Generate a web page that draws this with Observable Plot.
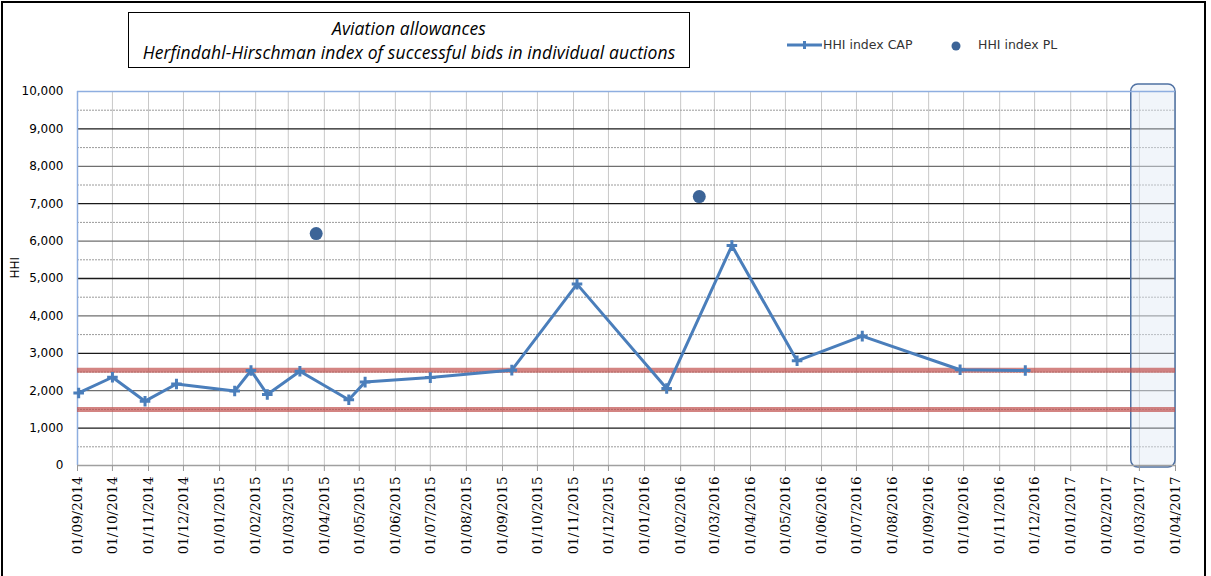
<!DOCTYPE html>
<html>
<head>
<meta charset="utf-8">
<script src="https://cdn.jsdelivr.net/npm/d3@7"></script>
<script src="https://cdn.jsdelivr.net/npm/@observablehq/plot@0.6"></script>
<style>
  html, body { margin: 0; padding: 0; background: #fff; }
  #wrap { position: relative; width: 1211px; height: 576px; overflow: hidden; }
  #frame { position: absolute; left: 1px; top: 1px; width: 1205px; height: 590px; border: 2px solid #000; box-sizing: border-box; pointer-events: none; }
  #title { position: absolute; left: 128px; top: 12px; width: 562px; height: 56px; border: 1.5px solid #000; box-sizing: border-box;
           font-family: "Open Sans", sans-serif; font-style: italic; font-size: 17.5px; line-height: 24px; text-align: center; padding-top: 3px; color: #000; background: #fff; letter-spacing: 0.1px; }
  #legend { position: absolute; left: 780px; top: 35px; width: 320px; height: 20px; }
  #chart { position: absolute; left: 0; top: 0; }
</style>
</head>
<body>
<div id="wrap">
  <div id="chart"></div>
  <div id="title">Aviation allowances<br>Herfindahl-Hirschman index of successful bids in individual auctions</div>
  <div id="legend"></div>
  <div id="frame"></div>
</div>
<script>
// ---- data ----
const capDates = ["2014-09-02","2014-10-01","2014-10-29","2014-11-25","2015-01-14","2015-01-28","2015-02-11","2015-03-11","2015-04-22","2015-05-06","2015-07-01","2015-09-09","2015-11-04","2016-01-20","2016-03-16","2016-05-11","2016-07-06","2016-09-28","2016-11-23"];
const capValues = [1940, 2360, 1720, 2180, 1990, 2540, 1900, 2520, 1760, 2230, 2350, 2550, 4850, 2060, 5880, 2800, 3460, 2560, 2540];
const plDates = ["2015-03-25", "2016-02-17"];
const plValues = [6200, 7190];
const thresholds = [1500, 2550];
const highlightStart = ["2017-02-22"];
const highlightEnd = ["2017-04-01"];
const xStart = "2014-09-01";
const xEnd = "2017-04-01";
const yTicks = [0, 1000, 2000, 3000, 4000, 5000, 6000, 7000, 8000, 9000, 10000];
const yMinor = [500, 1500, 2500, 3500, 4500, 5500, 6500, 7500, 8500, 9500];
const seriesNames = ["HHI index CAP", "HHI index PL"];
const yLabel = "HHI";

// ---- build ----
const parse = d3.utcParse("%Y-%m-%d");
const cap = capDates.map((d, i) => ({date: parse(d), value: capValues[i]}));
const pl = plDates.map((d, i) => ({date: parse(d), value: plValues[i]}));
const hl = highlightStart.map((d, i) => ({x1: parse(d), x2: parse(highlightEnd[i])}));
const x0 = parse(xStart), x1 = parse(xEnd);
const months = d3.utcMonth.range(x0, d3.utcDay.offset(x1, 1));

const blue = "#4a7ebb";
const dark = "#3c6497";

const chart = Plot.plot({
  width: 1211,
  height: 576,
  marginLeft: 77,
  marginRight: 36,
  marginTop: 91,
  marginBottom: 111,
  style: {fontFamily: "DejaVu Sans, sans-serif", fontSize: "12px", color: "#000", background: "transparent", overflow: "visible"},
  x: {type: "utc", domain: [x0, x1]},
  y: {domain: [0, 10000]},
  marks: [
    Plot.ruleX(months, {stroke: "#c8c8c8", strokeWidth: 1}),
    Plot.ruleY(yMinor, {stroke: "#9a9a9a", strokeWidth: 1, strokeDasharray: "2,1"}),
    Plot.ruleY(yTicks.filter(v => v > 0 && v < 10000), {stroke: (d) => (d / 1000) % 2 ? "#1a1a1a" : "#6f6f6f", strokeWidth: 1.3}),
    Plot.rect(hl, {x1: "x1", x2: "x2", y1: 0, y2: 10000, insetTop: -7, insetBottom: -2, rx: 7, fill: "#dfe8f4", fillOpacity: 0.45, stroke: "#4f71a3", strokeWidth: 1.5}),
    Plot.ruleY([10000], {stroke: "#8eaee0", strokeWidth: 1.5}),
    Plot.ruleX([x0], {stroke: "#8eaee0", strokeWidth: 1.5}),
    Plot.ruleY([0], {stroke: "#a0a0a0", strokeWidth: 1.5}),
    Plot.ruleY(thresholds, {stroke: "#c0504d", strokeOpacity: 0.7, strokeWidth: 5}),
    Plot.line(cap, {x: "date", y: "value", stroke: blue, strokeWidth: 3, strokeLinejoin: "round"}),
    Plot.dot(cap, {x: "date", y: "value", symbol: "plus", r: 3.5, stroke: blue, strokeWidth: 3}),
    Plot.dot(pl, {x: "date", y: "value", r: 6.5, fill: dark}),
    Plot.axisY({ticks: yTicks, tickFormat: d3.format(","), tickSize: 0, tickPadding: 14, fontSize: 12, label: null}),
    Plot.text([yLabel], {frameAnchor: "left", dx: -62, rotate: -90, fontSize: 12, fill: "#000"}),
    Plot.axisX({ticks: months, tickFormat: d3.utcFormat("%d/%m/%Y"), tickRotate: -90, tickSize: 6, tickPadding: 5, stroke: "#9a9a9a", fill: "#000", fontFamily: "DejaVu Serif, serif", fontSize: 13.5, label: null})
  ]
});
document.getElementById("chart").appendChild(chart);

// legend
const lg = d3.select("#legend").append("svg").attr("width", 320).attr("height", 20)
  .style("font-family", "DejaVu Sans, sans-serif").style("font-size", "12.5px");
lg.append("line").attr("x1", 7).attr("x2", 42).attr("y1", 10).attr("y2", 10).attr("stroke", blue).attr("stroke-width", 3);
lg.append("line").attr("x1", 24.5).attr("x2", 24.5).attr("y1", 6).attr("y2", 14).attr("stroke", blue).attr("stroke-width", 3);
lg.append("text").attr("x", 43).attr("y", 14).attr("fill", "#333").text(seriesNames[0]);
lg.append("circle").attr("cx", 176).attr("cy", 11).attr("r", 4.5).attr("fill", dark);
lg.append("text").attr("x", 198).attr("y", 14).attr("fill", "#333").text(seriesNames[1]);
</script>
</body>
</html>
